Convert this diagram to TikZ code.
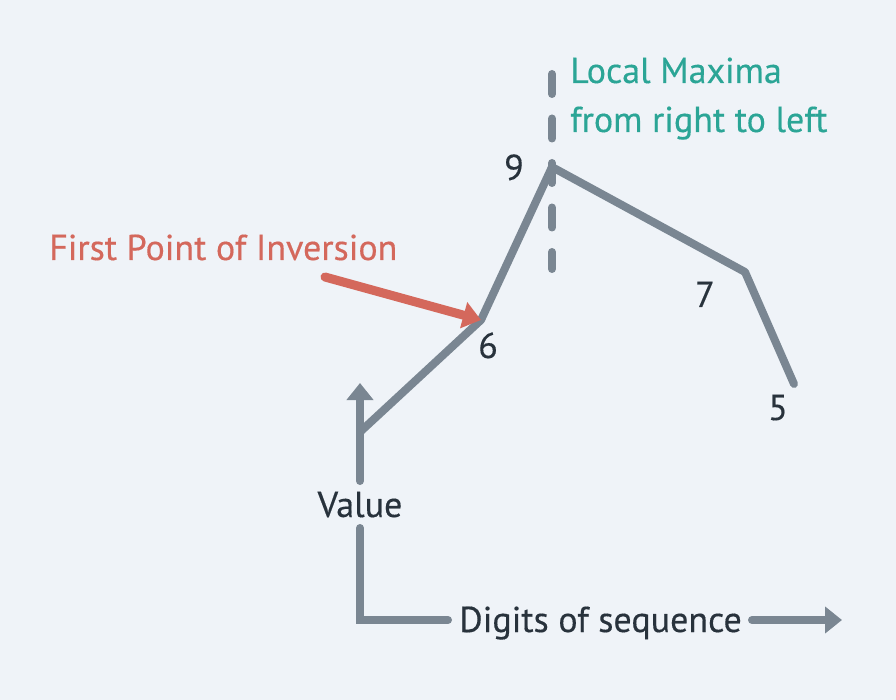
\documentclass[tikz,border=0pt]{standalone}
\usepackage{fontspec}
\setmainfont{PT Sans}
\newfontface\dinface{PT Sans}[FakeBold=0.35]
\usetikzlibrary{arrows.meta}
\definecolor{bgc}{HTML}{EFF3F8}
\definecolor{linec}{HTML}{7A8692}
\definecolor{textc}{HTML}{28323C}
\definecolor{tealc}{HTML}{2BA596}
\definecolor{redc}{HTML}{D4685C}
\tikzset{
  plotline/.style={draw=linec, line width=8pt, line cap=round, line join=round},
  axisline/.style={draw=linec, line width=8pt, line cap=round},
  axisarrow/.style={draw=linec, line width=8pt, line cap=round, -{Triangle[width=26pt,length=17pt]}},
  lbl/.style={text=textc, font=\dinface\fontsize{36}{40}\selectfont, inner sep=0pt},
  note/.style={font=\dinface\fontsize{36}{40}\selectfont, inner sep=0pt, anchor=base west},
}
\begin{document}
\begin{tikzpicture}[x=1pt,y=-1pt]
\fill[bgc] (0,0) rectangle (896,700);
\useasboundingbox (0,0) rectangle (896,700);
% data points
\coordinate (p0) at (360,432);
\coordinate (p6) at (481,320);
\coordinate (p9) at (552,167);
\coordinate (p7) at (745,272);
\coordinate (p5) at (794,384);
% dashed marker
\coordinate (dTop) at (552,74);
\coordinate (dBot) at (552,269);
\draw[draw=linec, line width=8pt, line cap=round, dash pattern=on 20pt off 24.5pt] (dTop) -- (dBot);
% polyline
\draw[plotline] (p0) -- (p6) -- (p9) -- (p7) -- (p5);
% labels
\node[lbl, anchor=base] (l9) at (514,180) {9};
\node[lbl, anchor=base] (l7) at (705,307) {7};
\node[lbl, anchor=base] (l6) at (488,358) {6};
\node[lbl, anchor=base] (l5) at (778,420) {5};
% axes
\coordinate (O) at (360,620);
\node[lbl, anchor=base] (val) at (360,517) {Value};
\node[lbl, anchor=base west] (dig) at (459,632) {Digits of sequence};
\coordinate (vLow) at (360,528);
\coordinate (vHigh) at (360,481);
\coordinate (yEnd) at (360,383);
\coordinate (hLeft) at (448,620);
\coordinate (hRight) at (752,620);
\coordinate (xEnd) at (842,620);
\draw[axisline] (vLow) -- (O) -- (hLeft);
\draw[axisarrow] (vHigh) -- (yEnd);
\draw[axisarrow] (hRight) -- (xEnd);
% annotations
\node[note, text=redc] (fpi) at (49,260) {First Point of Inversion};
\coordinate (aStart) at (325,277);
\draw[draw=redc, line width=9pt, line cap=round, -{Triangle[width=26pt,length=18pt]}] (aStart) -- (p6);
\node[note, text=tealc] (lm1) at (570,83) {Local Maxima};
\node[note, text=tealc] (lm2) at (570,132) {from right to left};
\end{tikzpicture}
\end{document}
